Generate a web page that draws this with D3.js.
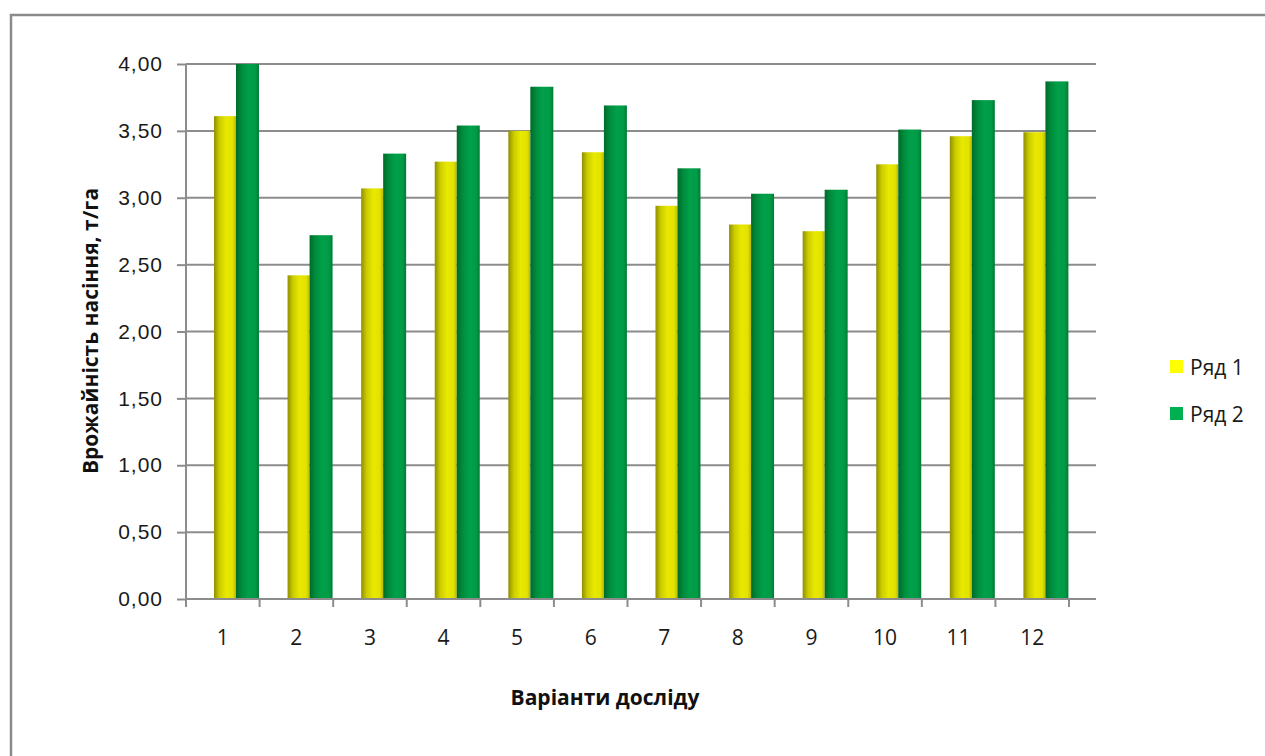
<!DOCTYPE html>
<html><head><meta charset="utf-8">
<script src="https://cdn.jsdelivr.net/npm/d3@7"></script>
<style>body{margin:0;background:#fff;} svg{display:block;font-family:"Open Sans","Liberation Sans",sans-serif;}</style>
</head><body><svg id="c" width="1265" height="756"></svg>
<script>
const categories = ["1","2","3","4","5","6","7","8","9","10","11","12"];
const series1 = [3.61,2.42,3.07,3.27,3.50,3.34,2.94,2.80,2.75,3.25,3.46,3.49];
const series2 = [4.00,2.72,3.33,3.54,3.83,3.69,3.22,3.03,3.06,3.51,3.73,3.87];
const seriesNames = ["Ряд 1","Ряд 2"];
const yTicks = [0,0.5,1,1.5,2,2.5,3,3.5,4];
const xTitle = "Варіанти досліду";
const yTitle = "Врожайність насіння, т/га";

(function(){
const svg = d3.select("#c");
const defs = svg.append("defs");
function grad(id, stops){
  const g = defs.append("linearGradient").attr("id",id).attr("x1","0").attr("x2","1").attr("y1","0").attr("y2","0");
  stops.forEach(s=>g.append("stop").attr("offset",s[0]).attr("stop-color",s[1]));
}
grad("gY",[[0,"#8f8f00"],[0.25,"#cccc00"],[0.55,"#e8e800"],[0.85,"#e2e200"],[1,"#b8b800"]]);
grad("gG",[[0,"#006a2a"],[0.25,"#008c3c"],[0.55,"#00a04a"],[0.85,"#009a46"],[1,"#007a35"]]);

// outer frame
svg.append("path").attr("d","M11,760 V15 H1270").attr("fill","none").attr("stroke","#8a8a8a").attr("stroke-width",2.5);

const L=186, R=1069, depth=27, T=64, B=599;
const x = d3.scaleBand().domain(categories).range([L,R]).paddingInner(0).paddingOuter(0);
const y = d3.scaleLinear().domain([0,4]).range([B,T]);

// gridlines
svg.append("g").selectAll("line").data(yTicks.filter(v=>v>0)).join("line")
  .attr("x1",L).attr("x2",R+depth).attr("y1",d=>y(d)).attr("y2",d=>y(d))
  .attr("stroke","#8c8c8c").attr("stroke-width",2);

// bars
const bw = x.bandwidth();
const off = 28/73.6*bw, w1 = 22/73.6*bw, w2 = 23/73.6*bw;
const g = svg.append("g");
g.selectAll(".b1").data(series1).join("rect").attr("class","b1")
  .attr("x",(d,i)=>x(categories[i])+off).attr("width",w1)
  .attr("y",d=>y(d)).attr("height",d=>B-y(d)).attr("fill","url(#gY)");
g.selectAll(".b2").data(series2).join("rect").attr("class","b2")
  .attr("x",(d,i)=>x(categories[i])+off+w1).attr("width",w2)
  .attr("y",d=>y(d)).attr("height",d=>B-y(d)).attr("fill","url(#gG)");

// y axis
const ya = svg.append("g").attr("transform",`translate(${L},0)`)
  .call(d3.axisLeft(y).tickValues(yTicks).tickSize(9).tickPadding(14).tickFormat(d=>d3.format(".2f")(d).replace(".",",")));
ya.select(".domain").remove();
ya.append("line").attr("x1",0).attr("x2",0).attr("y1",T).attr("y2",B).attr("stroke","#8c8c8c").attr("stroke-width",2);
ya.selectAll(".tick line").attr("stroke","#8c8c8c").attr("stroke-width",2);
ya.selectAll("text").attr("font-size",21).attr("fill","#1a1a1a").attr("letter-spacing",1);

// x axis
const xa = svg.append("g").attr("transform",`translate(0,${B})`);
xa.append("line").attr("x1",L).attr("x2",R+depth).attr("y1",0).attr("y2",0).attr("stroke","#8c8c8c").attr("stroke-width",2);
xa.selectAll(".tk").data(categories.map(c=>x(c)).concat([R])).join("line").attr("class","tk")
  .attr("x1",d=>d).attr("x2",d=>d).attr("y1",0).attr("y2",8).attr("stroke","#8c8c8c").attr("stroke-width",2);
xa.selectAll("text").data(categories).join("text")
  .attr("x",d=>x(d)+bw/2).attr("y",46).attr("text-anchor","middle").attr("font-size",21).attr("fill","#1a1a1a").text(d=>d);

// titles
svg.append("text").attr("x",605).attr("y",705).attr("text-anchor","middle").attr("font-size",21).attr("font-weight","bold").attr("fill","#111").text(xTitle);
svg.append("text").attr("transform","translate(98,331) rotate(-90)").attr("text-anchor","middle").attr("font-size",21).attr("font-weight","bold").attr("fill","#111").text(yTitle);

// legend
const legColors = ["#ffff00","#00b050"];
const lg = svg.append("g");
seriesNames.forEach((n,i)=>{
  lg.append("rect").attr("x",1170).attr("y",360+i*47).attr("width",13).attr("height",13).attr("fill",legColors[i]);
  lg.append("text").attr("x",1190).attr("y",375+i*47).attr("font-size",21).attr("fill","#1a1a1a").text(n);
});
})();
</script></body></html>
